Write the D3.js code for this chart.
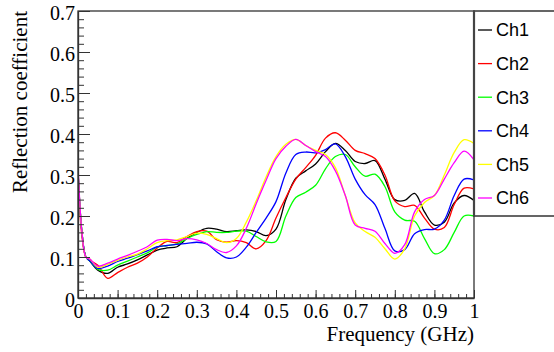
<!DOCTYPE html>
<html>
<head>
<meta charset="utf-8">
<script src="https://cdn.jsdelivr.net/npm/d3@7"></script>
<style>
  body { margin: 0; background: #fff; }
  svg { display: block; }
  .tick text { font-family: "Liberation Serif", "Times New Roman", serif; font-size: 20px; fill: #000; }
</style>
</head>
<body>
<div id="chart"></div>
<script>
// frequency samples (GHz)
const freq = [0, 0.01, 0.02, 0.03, 0.05, 0.075, 0.1, 0.125, 0.15, 0.175, 0.2, 0.225, 0.25, 0.275, 0.3,
    0.325, 0.35, 0.375, 0.4, 0.425, 0.45, 0.475, 0.5, 0.525, 0.55, 0.575, 0.6, 0.625, 0.65, 0.675, 0.7,
    0.725, 0.75, 0.775, 0.8, 0.825, 0.85, 0.875, 0.9, 0.925, 0.95, 0.975, 1.0];

const ch1 = [0.31, 0.16, 0.10, 0.09, 0.068, 0.06, 0.075, 0.083, 0.093, 0.105, 0.117, 0.122, 0.125, 0.145, 0.16,
    0.17, 0.168, 0.162, 0.164, 0.166, 0.162, 0.152, 0.168, 0.24, 0.292, 0.31, 0.327, 0.357, 0.377, 0.36, 0.333,
    0.328, 0.335, 0.29, 0.24, 0.238, 0.255, 0.21, 0.178, 0.185, 0.232, 0.25, 0.238];
const ch2 = [0.30, 0.15, 0.10, 0.092, 0.08, 0.048, 0.062, 0.075, 0.085, 0.10, 0.122, 0.138, 0.135, 0.15, 0.162,
    0.163, 0.142, 0.136, 0.14, 0.135, 0.12, 0.14, 0.195, 0.245, 0.29, 0.318, 0.348, 0.39, 0.403, 0.385, 0.36,
    0.352, 0.34, 0.30, 0.237, 0.223, 0.226, 0.195, 0.168, 0.172, 0.228, 0.268, 0.266];
const ch3 = [0.31, 0.16, 0.10, 0.09, 0.07, 0.068, 0.08, 0.09, 0.10, 0.11, 0.124, 0.128, 0.132, 0.145, 0.155,
    0.162, 0.16, 0.16, 0.163, 0.163, 0.15, 0.137, 0.138, 0.20, 0.245, 0.258, 0.275, 0.315, 0.345, 0.35, 0.32,
    0.297, 0.302, 0.272, 0.21, 0.19, 0.187, 0.145, 0.108, 0.118, 0.16, 0.20, 0.20];
const ch4 = [0.31, 0.16, 0.10, 0.09, 0.072, 0.078, 0.089, 0.097, 0.106, 0.115, 0.125, 0.128, 0.131, 0.133, 0.136,
    0.132, 0.113, 0.098, 0.10, 0.124, 0.16, 0.195, 0.235, 0.305, 0.35, 0.356, 0.354, 0.362, 0.376, 0.345, 0.29,
    0.252, 0.228, 0.17, 0.115, 0.118, 0.157, 0.167, 0.168, 0.19, 0.25, 0.29, 0.288];
const ch5 = [0.31, 0.16, 0.10, 0.095, 0.075, 0.082, 0.092, 0.10, 0.107, 0.12, 0.135, 0.14, 0.142, 0.15, 0.158,
    0.155, 0.145, 0.135, 0.145, 0.185, 0.237, 0.295, 0.345, 0.375, 0.387, 0.372, 0.36, 0.35, 0.318, 0.25, 0.183,
    0.162, 0.148, 0.12, 0.095, 0.12, 0.20, 0.233, 0.25, 0.30, 0.355, 0.386, 0.377];
const ch6 = [0.325, 0.16, 0.10, 0.095, 0.078, 0.085, 0.095, 0.104, 0.114, 0.125, 0.141, 0.143, 0.14, 0.145, 0.142,
    0.133, 0.118, 0.111, 0.127, 0.17, 0.23, 0.287, 0.34, 0.37, 0.387, 0.372, 0.357, 0.345, 0.31, 0.25, 0.178,
    0.17, 0.163, 0.133, 0.109, 0.13, 0.21, 0.24, 0.25, 0.29, 0.33, 0.358, 0.337];

const names = ["Ch1", "Ch2", "Ch3", "Ch4", "Ch5", "Ch6"];
const colors = ["#000000", "#ff0000", "#00ff00", "#0000ff", "#ffff00", "#ff00ff"];
const series = [ch1, ch2, ch3, ch4, ch5, ch6];

const W = 554, H = 352;
const margin = { left: 78, right: 80, top: 11, bottom: 54 };

const svg = d3.select("#chart").append("svg")
    .attr("width", W)
    .attr("height", H);

const x = d3.scaleLinear().domain([0, 1]).range([margin.left, W - margin.right]);
const y = d3.scaleLinear().domain([0, 0.7]).range([H - margin.bottom, margin.top]);

const fmt = d => String(+d.toFixed(2));

svg.append("clipPath").attr("id", "plot-clip")
    .append("rect")
    .attr("x", x(0)).attr("y", y(0.7))
    .attr("width", x(1) - x(0)).attr("height", y(0) - y(0.7));

//curves
const line = d3.line()
    .x((d, i) => x(freq[i]))
    .y(d => y(d))
    .curve(d3.curveCatmullRom);

svg.append("g")
    .attr("clip-path", "url(#plot-clip)")
    .selectAll("path")
    .data(series)
    .enter()
    .append("path")
    .attr("d", line)
    .style("fill", "none")
    .style("stroke", (d, i) => colors[i])
    .style("stroke-width", 1.3)
    .style("stroke-linejoin", "round");

//frame
svg.append("rect")
    .attr("x", x(0)).attr("y", y(0.7))
    .attr("width", x(1) - x(0)).attr("height", y(0) - y(0.7))
    .style("fill", "none")
    .style("stroke", "#333")
    .style("stroke-width", 1.3);

//minor ticks (inside)
svg.append("g")
    .attr("transform", "translate(" + x(0) + ",0)")
    .call(d3.axisLeft(y).ticks(35).tickSizeInner(-6).tickSizeOuter(0).tickFormat(""))
    .call(g => g.select(".domain").remove())
    .selectAll("line").style("stroke", "#333");

svg.append("g")
    .attr("transform", "translate(0," + y(0) + ")")
    .call(d3.axisBottom(x).ticks(50).tickSizeInner(-4).tickSizeOuter(0).tickFormat(""))
    .call(g => g.select(".domain").remove())
    .selectAll("line").style("stroke", "#333");

//major ticks + labels
let yAxis = svg.append("g")
    .attr("transform", "translate(" + x(0) + ",0)")
    .call(d3.axisLeft(y).ticks(7).tickSizeInner(-12).tickSizeOuter(0).tickPadding(3).tickFormat(fmt));
yAxis.select(".domain").style("stroke", "#333").style("stroke-width", 1.3);
yAxis.selectAll("line").style("stroke", "#333");
yAxis.selectAll("text").attr("dy", "0.4em");

let xAxis = svg.append("g")
    .attr("transform", "translate(0," + y(0) + ")")
    .call(d3.axisBottom(x).ticks(10).tickSizeInner(-8).tickSizeOuter(0).tickPadding(6).tickFormat(fmt));
xAxis.select(".domain").style("stroke", "#333").style("stroke-width", 1.3);
xAxis.selectAll("line").style("stroke", "#333");

//axis titles
svg.append("text")
    .attr("x", x(1))
    .attr("y", 341)
    .attr("text-anchor", "end")
    .style("font-family", "'Liberation Serif', 'Times New Roman', serif")
    .style("font-size", "21px")
    .text("Frequency (GHz)");

svg.append("text")
    .attr("transform", "translate(27," + y(0.7) + ") rotate(-90)")
    .attr("text-anchor", "end")
    .style("font-family", "'Liberation Serif', 'Times New Roman', serif")
    .style("font-size", "21px")
    .text("Reflection coefficient");

//legend
const lx = x(1);
const legend = svg.append("g");
legend.append("rect")
    .attr("x", lx).attr("y", y(0.7))
    .attr("width", 90).attr("height", 205)
    .style("fill", "#fff")
    .style("stroke", "#333")
    .style("stroke-width", 1.5);
legend.append("line")
    .attr("x1", lx).attr("x2", lx)
    .attr("y1", y(0.7)).attr("y2", y(0.7) + 205)
    .style("stroke", "#444")
    .style("stroke-width", 2.2);

const rows = legend.selectAll(".entry")
    .data(names)
    .enter()
    .append("g")
    .attr("transform", (d, i) => "translate(" + lx + "," + (30 + i * 33.6) + ")");
rows.append("line")
    .attr("x1", 4).attr("x2", 18)
    .style("stroke", (d, i) => colors[i])
    .style("stroke-width", 1.3);
rows.append("text")
    .attr("x", 22)
    .attr("dy", "0.36em")
    .style("font-family", "'Liberation Sans', Helvetica, Arial, sans-serif")
    .style("font-size", "18px")
    .text(d => d);
</script>
</body>
</html>
